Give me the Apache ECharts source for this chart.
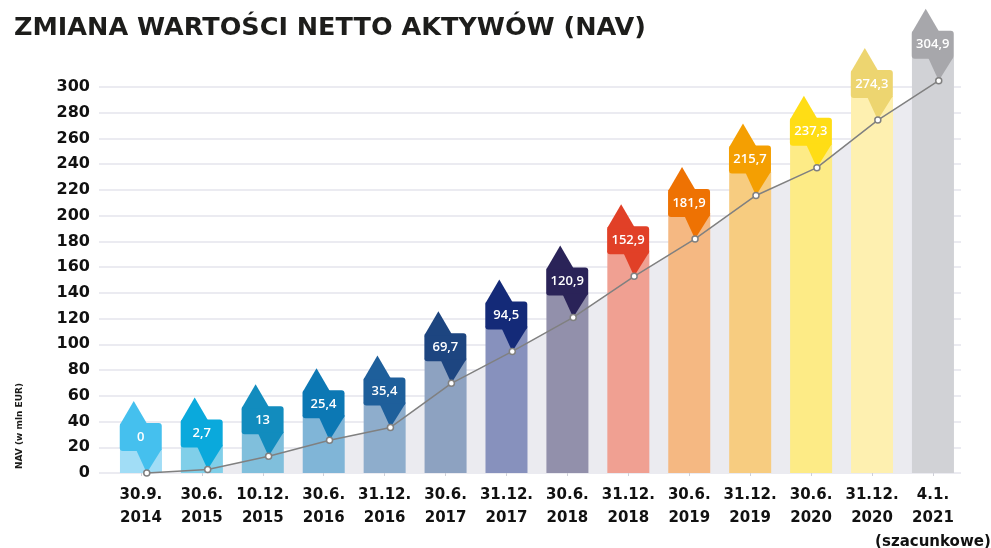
<!DOCTYPE html>
<html>
<head>
<meta charset="utf-8">
<script src="https://cdn.jsdelivr.net/npm/echarts@6/dist/echarts.min.js"></script>
<style>
html,body{margin:0;padding:0;background:#fff;}
#chart{width:991px;height:548px;}
</style>
</head>
<body>
<div id="chart"></div>
<script>
// ---- data ----
var categories = ['30.9.\n2014', '30.6.\n2015', '10.12.\n2015', '30.6.\n2016', '31.12.\n2016', '30.6.\n2017', '31.12.\n2017', '30.6.\n2018', '31.12.\n2018', '30.6.\n2019', '31.12.\n2019', '30.6.\n2020', '31.12.\n2020', '4.1.\n2021\n(szacunkowe)'];
var navValues = [0, 2.7, 13, 25.4, 35.4, 69.7, 94.5, 120.9, 152.9, 181.9, 215.7, 237.3, 274.3, 304.9];
var barHeights = [19, 22, 32, 45, 55, 89, 114, 140, 173, 202, 234, 256, 293, 323];
var yTicks = [0, 20, 40, 60, 80, 100, 120, 140, 160, 180, 200, 220, 240, 260, 280, 300];

// ---- styles ----
var barColors = ['#a1ddf6', '#80cfe9', '#80bfdc', '#80b5d7', '#8eadcc', '#8da2c1', '#8791bd', '#9290ab', '#f0a092', '#f5b882', '#f7cc80', '#fdeb86', '#fef0b0', '#d1d2d6'];
var markerColors = ['#45c0ee', '#0aa9dc', '#128cbe', '#0c78b4', '#1e5f9b', '#1d4580', '#142a78', '#2a2358', '#e14027', '#ee7203', '#f49f02', '#ffdd15', '#edd570', '#a7a7ab'];

var chart = echarts.init(document.getElementById('chart'), null, {renderer: 'canvas'});

function fmt(v) { return String(v).replace('.', ','); }

function renderMarker(params, api) {
  var i = params.dataIndex;
  var p = api.coord([api.value(0), api.value(1)]);
  var x = p[0], y = p[1];
  var c = markerColors[i];
  return {
    type: 'group',
    children: [
      {type: 'rect', shape: {x: x - 27, y: y - 50, width: 42, height: 28, r: 3}, style: {fill: c}},
      {type: 'polygon', shape: {points: [[x - 27, y - 48], [x - 13, y - 72], [x + 1, y - 48]]}, style: {fill: c}},
      {type: 'polygon', shape: {points: [[x - 11, y - 24], [x + 15, y - 24], [x, y]]}, style: {fill: c}},
      {type: 'text', style: {text: fmt(api.value(1)), x: x - 6, y: y - 36, textAlign: 'center', textVerticalAlign: 'middle', fill: '#ffffff', font: '600 13px "Open Sans"'}}
    ]
  };
}

var gridTop = 87, gridBottom = 75;

var option = {
  animation: false,
  backgroundColor: '#ffffff',
  grid: [
    {left: 99, right: 30, top: gridTop, bottom: gridBottom, containLabel: false, outerBoundsMode: 'none'},
    {left: 110.5, right: 27.6, top: gridTop, bottom: gridBottom, containLabel: false, outerBoundsMode: 'none'},
    {left: 116.3, right: 21.8, top: gridTop, bottom: gridBottom, containLabel: false, outerBoundsMode: 'none'}
  ],
  xAxis: [
    {gridIndex: 0, type: 'value', show: false, min: 0, max: 1},
    {gridIndex: 1, type: 'category', data: categories, boundaryGap: true,
      axisLine: {show: false},
      axisTick: {show: true, alignWithLabel: true, length: 3, lineStyle: {color: '#cfd0d8', width: 1}},
      axisLabel: {interval: 0, margin: 10, color: '#111111', fontFamily: 'DejaVu Sans', fontWeight: 'bold', fontSize: 15, lineHeight: 23.5}
    },
    {gridIndex: 2, type: 'category', data: categories, boundaryGap: true, show: false}
  ],
  yAxis: [
    {gridIndex: 0, type: 'value', min: 0, max: 300, interval: 20,
      axisLine: {show: false}, axisTick: {show: false},
      axisLabel: {margin: 9, color: '#111111', fontFamily: 'DejaVu Sans', fontWeight: 'bold', fontSize: 16,
        formatter: function (v) { return yTicks.indexOf(v) >= 0 ? String(v) : ''; }},
      splitLine: {show: true, lineStyle: {color: '#e4e4ec', width: 1.5}}
    },
    {gridIndex: 1, type: 'value', min: 0, max: 300, interval: 20, show: false, splitLine: {show: false}},
    {gridIndex: 2, type: 'value', min: 0, max: 300, interval: 20, show: false, splitLine: {show: false}}
  ],
  graphic: [
    {type: 'text', x: 14, y: 15, style: {text: 'ZMIANA WARTOŚCI NETTO AKTYWÓW (NAV)', font: 'bold 25.5px "DejaVu Sans"', fill: '#1d1d1b'}},
    {type: 'text', x: 20, y: 426, rotation: Math.PI / 2, style: {text: 'NAV (w mln EUR)', textAlign: 'center', textVerticalAlign: 'middle', font: 'bold 9px "DejaVu Sans"', fill: '#1d1d1b'}}
  ],
  series: [
    {type: 'line', name: 'area', xAxisIndex: 2, yAxisIndex: 2, data: navValues, z: 1, clip: false,
      symbol: 'none', lineStyle: {width: 0, opacity: 0}, areaStyle: {color: '#ebebf0', opacity: 1}, silent: true},
    {type: 'bar', name: 'bars', xAxisIndex: 1, yAxisIndex: 1, z: 2, clip: false, barWidth: 42,
      data: barHeights.map(function (v, i) { return {value: v, itemStyle: {color: barColors[i]}}; })},
    {type: 'custom', name: 'markers', xAxisIndex: 2, yAxisIndex: 2, z: 3, renderItem: renderMarker,
      data: navValues.map(function (v, i) { return [i, v]; })},
    {type: 'line', name: 'NAV', xAxisIndex: 2, yAxisIndex: 2, data: navValues, z: 4, clip: false,
      symbol: 'circle', symbolSize: 6, lineStyle: {color: '#808080', width: 1.5},
      itemStyle: {color: '#ffffff', borderColor: '#808080', borderWidth: 1.5}}
  ]
};
chart.setOption(option);
</script>
</body>
</html>
